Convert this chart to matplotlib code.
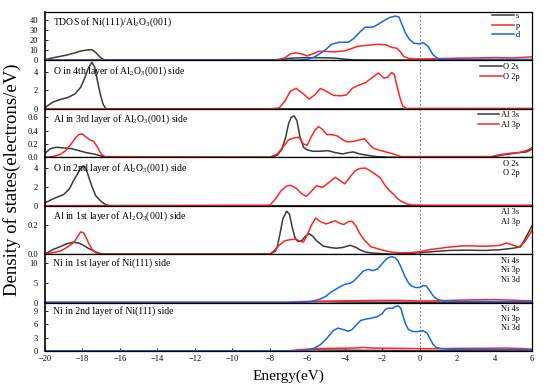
import matplotlib
matplotlib.use('Agg')
import matplotlib.pyplot as plt

plt.rcParams['font.family'] = ['Liberation Serif', 'DejaVu Serif']
plt.rcParams['mathtext.fontset'] = 'custom'
plt.rcParams['mathtext.rm'] = 'Liberation Serif'
plt.rcParams['axes.unicode_minus'] = True

# ---------------- data ----------------
# Panel 1: TDOS
p1_s_E = [-20, -19.6, -19.2, -18.8, -18.4, -18.1, -17.8, -17.5, -17.3, -17.1, -16.9, -16.7,
          -8, -7.4, -7.0, -6.5, -6.0, -5.5, -5.0, -4.5, -4.0, -3.5, -3.0, 6]
p1_s = [0.7, 2.5, 4, 5.5, 7.5, 9.3, 10.2, 10.7, 8, 4, 1, 0,
        0.2, 1, 2, 2.6, 2.7, 2.7, 2.6, 2.3, 1.2, 0.6, 0.4, 0.3]
p1_p_E = [-20, -8, -7.5, -7.2, -6.9, -6.6, -6.3, -6.0, -5.7, -5.4, -5.0, -4.6, -4.0, -3.6, -3.3,
          -2.8, -2.2, -1.8, -1.5, -1.2, -1.0, -0.85, -0.6, -0.2, 0.5, 1, 2, 3, 4, 5, 6]
p1_p = [0.3, 0.3, 1, 2.5, 6.5, 7.5, 6.5, 4.5, 6.5, 9, 9, 8.5, 9.5, 12, 14,
        15, 16, 15.5, 13, 12, 8, 4, 2, 1.5, 1.5, 1.8, 2.2, 2.5, 2.8, 2.5, 3.5]
p1_d_E = [-20, -6.5, -6.0, -5.6, -5.3, -5.0, -4.7, -4.3, -3.8, -3.5, -3.2, -2.9, -2.5, -2.2, -1.9,
          -1.6, -1.3, -1.1, -0.95, -0.75, -0.55, -0.3, -0.05, 0.2, 0.45, 0.7, 0.95, 1.3, 6]
p1_d = [0.3, 0.3, 1, 3.5, 7, 11, 16, 18, 18, 22, 28, 33, 33, 36, 39.5,
        42.5, 44, 43, 36, 27, 21, 17, 16.5, 17.5, 14, 6, 2, 1, 1]

# Panel 2: O in 4th layer
p2_s_E = [-20, -19.6, -19.2, -18.8, -18.4, -18.1, -17.9, -17.7, -17.5, -17.35, -17.2, -17.05,
          -16.9, -16.75, 6]
p2_s = [0.15, 0.7, 1.0, 1.2, 1.6, 2.3, 3.2, 4.3, 5.0, 4.5, 3.0, 1.6, 0.5, 0.0, 0.0]
p2_p_E = [-20, -8, -7.5, -7.2, -6.9, -6.6, -6.2, -5.9, -5.6, -5.3, -5.0, -4.6, -4.2, -3.9, -3.6,
          -3.3, -2.9, -2.5, -2.2, -1.9, -1.7, -1.5, -1.35, -1.2, -1.05, -0.9, -0.7, 6]
p2_p = [0, 0, 0.1, 0.8, 1.9, 2.2, 1.6, 1.05, 1.5, 2.2, 1.9, 1.45, 1.4, 1.5, 2.2,
        2.5, 2.8, 3.4, 3.85, 3.3, 3.4, 3.9, 3.7, 2.4, 1.2, 0.3, 0.05, 0.05]

# Panel 3: Al in 3rd layer
p3_s_E = [-20, -19.7, -19.4, -19.0, -18.6, -18.2, -17.8, -17.4, -17.0, -16.7, -8, -7.6, -7.35,
          -7.15, -7.0, -6.85, -6.7, -6.55, -6.4, -6.2, -6.0, -5.7, -5.3, -4.9, -4.5, -4.1, -3.8,
          -3.55, -3.2, -2.8, -2.3, -1.5, 3.8, 4.3, 4.8, 5.3, 5.7, 6]
p3_s = [0.06, 0.13, 0.15, 0.14, 0.13, 0.1, 0.07, 0.05, 0.02, 0, 0, 0.03, 0.12,
        0.3, 0.5, 0.6, 0.62, 0.55, 0.32, 0.15, 0.11, 0.09, 0.09, 0.1, 0.07, 0.05, 0.07,
        0.08, 0.05, 0.03, 0.01, 0, 0, 0.03, 0.05, 0.07, 0.08, 0.12]
p3_p_E = [-20, -19.6, -19.2, -18.9, -18.6, -18.4, -18.2, -18.0, -17.8, -17.6, -17.4, -17.2, -17.0,
          -16.8, -8, -7.6, -7.3, -7.0, -6.7, -6.45, -6.2, -6.0, -5.8, -5.6, -5.4, -5.2, -4.95,
          -4.7, -4.4, -4.1, -3.85, -3.5, -3.2, -2.95, -2.7, -2.5, -2.2, -1.8, -1.4, -1.0, 3.8,
          4.3, 4.8, 5.3, 5.7, 6]
p3_p = [0, 0.01, 0.04, 0.1, 0.2, 0.28, 0.34, 0.35, 0.3, 0.26, 0.24, 0.15, 0.05,
        0.01, 0, 0.05, 0.15, 0.26, 0.29, 0.3, 0.2, 0.18, 0.3, 0.4, 0.46, 0.42, 0.34,
        0.34, 0.32, 0.26, 0.23, 0.24, 0.26, 0.28, 0.2, 0.14, 0.11, 0.08, 0.05, 0.01, 0.01,
        0.04, 0.06, 0.07, 0.1, 0.14]

# Panel 4: O in 2nd layer
p4_s_E = [-20, -19.5, -19.0, -18.7, -18.5, -18.3, -18.1, -17.95, -17.8, -17.65, -17.5, -17.3,
          -17.0, -16.75, -16.5, 6]
p4_s = [0.3, 0.8, 1.2, 1.8, 2.6, 3.3, 4.0, 4.3, 3.9, 3.0, 2.1, 1.1, 0.45, 0.1, 0, 0]
p4_p_E = [-20, -8.0, -7.7, -7.4, -7.1, -6.9, -6.6, -6.3, -6.05, -5.8, -5.5, -5.2, -4.9, -4.5,
          -4.25, -4.0, -3.75, -3.45, -3.2, -2.9, -2.6, -2.35, -2.1, -1.85, -1.6, -1.4, -1.2,
          -1.0, -0.7, -0.4, 0.5, 6]
p4_p = [0, 0.05, 0.7, 1.6, 2.1, 2.2, 1.9, 1.3, 1.0, 1.5, 2.15, 1.95, 2.4, 3.05,
        2.7, 2.35, 3.0, 3.75, 4.0, 4.05, 3.7, 3.35, 3.0, 2.2, 1.6, 1.25, 0.8,
        0.5, 0.2, 0.08, 0.05, 0.05]

# Panel 5: Al in 1st layer
p5_s_E = [-20, -19.6, -19.2, -18.85, -18.5, -18.2, -17.95, -17.7, -17.45, -17.2, -17.0, -8.0,
          -7.7, -7.6, -7.45, -7.3, -7.1, -6.95, -6.8, -6.65, -6.5, -6.3, -6.1, -5.9, -5.7,
          -5.5, -5.15, -4.8, -4.45, -4.1, -3.7, -3.4, -3.15, -2.9, -2.6, -2.0, -1.5, -1.0,
          -0.5, 0, 0.5, 1.0, 1.6, 2.5, 3.5, 4.3, 5.0, 5.4, 5.7, 6]
p5_s = [0.0, 0.03, 0.05, 0.07, 0.08, 0.075, 0.06, 0.04, 0.025, 0.01, 0, 0,
        0.02, 0.05, 0.14, 0.24, 0.29, 0.27, 0.18, 0.11, 0.085, 0.09, 0.12, 0.138, 0.12,
        0.09, 0.055, 0.045, 0.04, 0.045, 0.06, 0.045, 0.027, 0.015, 0.008, 0.003, 0.0, 0.002,
        0.005, 0.01, 0.015, 0.02, 0.025, 0.027, 0.025, 0.03, 0.04, 0.05, 0.12, 0.19]
p5_p_E = [-20, -19.2, -18.9, -18.6, -18.4, -18.25, -18.1, -17.95, -17.8, -17.65, -17.5, -17.3,
          -17.1, -8.0, -7.8, -7.5, -7.2, -6.9, -6.6, -6.35, -6.2, -6.0, -5.8, -5.55, -5.3, -5.0,
          -4.75, -4.5, -4.3, -4.05, -3.8, -3.6, -3.4, -3.2, -2.95, -2.6, -2.2, -1.8, -1.4,
          -1.0, -0.5, 0, 0.5, 1.0, 1.6, 2.2, 2.8, 3.3, 3.8, 4.3, 4.65, 5.0, 5.3, 5.6, 5.8, 6]
p5_p = [0, 0.02, 0.04, 0.065, 0.09, 0.12, 0.15, 0.145, 0.11, 0.07, 0.035, 0.01,
        0, 0, 0.02, 0.06, 0.09, 0.098, 0.1, 0.085, 0.082, 0.13, 0.19, 0.244, 0.22, 0.204,
        0.215, 0.225, 0.21, 0.2, 0.22, 0.222, 0.19, 0.14, 0.095, 0.05, 0.035, 0.022, 0.012,
        0.009, 0.01, 0.016, 0.03, 0.038, 0.048, 0.055, 0.056, 0.053, 0.055, 0.06, 0.076, 0.06,
        0.049, 0.08, 0.12, 0.16]

# Panel 6: Ni in 1st layer
p6_s_E = [-20, -7, -6, -5, -4, -2, 0, 2, 4, 6]
p6_s = [0, 0, 0.2, 0.25, 0.15, 0.1, 0.08, 0.1, 0.1, 0.1]
p6_p_E = [-20, -7, -6.5, -6, -5, -4, -3, -2, -1, 0, 1, 2, 3, 4, 5, 6]
p6_p = [0.05, 0.05, 0.2, 0.3, 0.35, 0.45, 0.5, 0.55, 0.55, 0.4, 0.45, 0.6, 0.7, 0.75, 0.6, 0.4]
p6_d_E = [-20, -6.5, -6.0, -5.6, -5.3, -5.0, -4.75, -4.5, -4.25, -4.0, -3.7, -3.5, -3.3, -3.0,
          -2.75, -2.5, -2.25, -2.0, -1.8, -1.6, -1.45, -1.3, -1.15, -1.0, -0.8, -0.6, -0.4,
          -0.2, 0.0, 0.2, 0.35, 0.5, 0.65, 0.8, 1.0, 1.3, 2, 6]
p6_d = [0.05, 0.05, 0.1, 0.5, 0.9, 1.6, 2.6, 3.3, 4.0, 4.6, 4.9, 5.5, 6.5, 8.0,
        8.4, 8.1, 8.5, 9.8, 10.9, 11.5, 11.6, 11.3, 10.5, 9.0, 6.8, 5.0, 4.1,
        3.8, 3.8, 4.3, 4.2, 3.3, 2.2, 1.3, 0.7, 0.45, 0.3, 0.2]

# Panel 7: Ni in 2nd layer
p7_s_E = [-20, -7, -6, -5, -3, -1, 0, 2, 4, 6]
p7_s = [0, 0, 0.25, 0.2, 0.15, 0.1, 0.05, 0.1, 0.12, 0.1]
p7_p_E = [-20, -7, -6.3, -5.5, -4.5, -3.5, -3.0, -2.5, -1.5, -0.5, 0.5, 1.5, 2.5, 3.5, 4.5, 5.5, 6]
p7_p = [0.05, 0.05, 0.3, 0.55, 0.6, 0.65, 0.8, 0.65, 0.6, 0.55, 0.5, 0.55, 0.6, 0.6, 0.65, 0.55, 0.4]
p7_d_E = [-20, -6.5, -6.0, -5.6, -5.3, -5.0, -4.8, -4.6, -4.35, -4.1, -3.8, -3.6, -3.4, -3.15,
          -2.9, -2.6, -2.3, -2.0, -1.85, -1.65, -1.45, -1.3, -1.15, -1.0, -0.9, -0.75, -0.6,
          -0.4, -0.2, 0.0, 0.2, 0.4, 0.55, 0.7, 0.9, 1.2, 1.6, 6]
p7_d = [0.05, 0.05, 0.15, 0.7, 1.4, 2.6, 3.6, 4.6, 5.1, 4.8, 4.4, 4.8, 5.7, 6.8,
        7.1, 7.3, 7.6, 8.3, 9.2, 9.6, 9.5, 9.9, 10.1, 9.5, 8.0, 6.0, 4.8,
        4.4, 4.3, 4.4, 4.5, 4.0, 2.8, 1.6, 0.75, 0.5, 0.4, 0.25]

titles = [r'TDOS of Ni(111)/Al$_2$O$_3$(001)',
          r'O in 4th layer of Al$_2$O$_3$(001) side',
          r'Al in 3rd layer of Al$_2$O$_3$(001) side',
          r'O in 2nd layer of Al$_2$O$_3$(001) side',
          r'Al in 1st layer of Al$_2$O$_3$(001) side',
          'Ni in 1st layer of Ni(111) side',
          'Ni in 2nd layer of Ni(111) side']
legend_labels = [['s', 'p', 'd'], ['O 2s', 'O 2p'], ['Al 3s', 'Al 3p'], ['O 2s', 'O 2p'],
                 ['Al 3s', 'Al 3p'], ['Ni 4s', 'Ni 3p', 'Ni 3d'], ['Ni 4s', 'Ni 3p', 'Ni 3d']]
legend_lines = [True, True, True, False, False, False, False]
ylims = [48, 5.2, 0.725, 5.2, 0.327, 12.25, 10.8]
yticks = [[0, 10, 20, 30, 40], [0, 2, 4], [0.0, 0.2, 0.4, 0.6], [0, 2, 4], [0.0, 0.2],
          [0, 5, 10], [0, 3, 6, 9]]
ytick_fmt = ['%d', '%d', '%.1f', '%d', '%.1f', '%d', '%d']
xticks = list(range(-20, 7, 2))

series = [
    [(p1_s_E, p1_s), (p1_p_E, p1_p), (p1_d_E, p1_d)],
    [(p2_s_E, p2_s), (p2_p_E, p2_p)],
    [(p3_s_E, p3_s), (p3_p_E, p3_p)],
    [(p4_s_E, p4_s), (p4_p_E, p4_p)],
    [(p5_s_E, p5_s), (p5_p_E, p5_p)],
    [(p6_s_E, p6_s), (p6_p_E, p6_p), (p6_d_E, p6_d)],
    [(p7_s_E, p7_s), (p7_p_E, p7_p), (p7_d_E, p7_d)],
]
colors = ['#3a3a3a', '#ff2424', '#1a66e0']

# ---------------- figure ----------------
fig = plt.figure(figsize=(5.5, 3.9), dpi=100)
L, R = 45 / 550, 532 / 550
T, B = 1 - 12 / 390, 1 - 351 / 390
gs = fig.add_gridspec(7, 1, left=L, right=R, top=T, bottom=B, hspace=0)

for i in range(7):
    ax = fig.add_subplot(gs[i])
    handles = []
    for j, (xe, yv) in enumerate(series[i]):
        ln, = ax.plot(xe, yv, color=colors[j], lw=1.1, label=legend_labels[i][j])
        handles.append(ln)
    ax.axvline(0, color='#777777', lw=0.7, ls=(0, (2, 2)), zorder=0)
    ax.set_xlim(-20, 6)
    ax.set_ylim(0, ylims[i])
    ax.set_yticks(yticks[i])
    ax.set_yticklabels([ytick_fmt[i] % v for v in yticks[i]])
    ax.set_xticks(xticks)
    ax.tick_params(axis='both', direction='in', length=2, width=0.6, labelsize=6, pad=5)
    ax.tick_params(axis='x', pad=3)
    if i < 6:
        ax.tick_params(axis='x', labelbottom=False, length=0)
    for sp in ax.spines.values():
        sp.set_linewidth(0.9)
        sp.set_color('black')
    ax.spines['left'].set_linewidth(1.2)
    ax.text(0.016, 0.92, titles[i], transform=ax.transAxes, fontsize=7,
            va='top', ha='left')
    off = 0 if i == 0 else 2.5
    if legend_lines[i]:
        ax.legend(handles=handles, loc='upper right',
                  bbox_to_anchor=(1 - 12 / 487, 1 - off / 48), borderaxespad=0,
                  borderpad=0, frameon=False, fontsize=6, handlelength=2.6,
                  handletextpad=0.2, labelspacing=0.2)
    else:
        ax.legend(handles=handles, loc='upper right',
                  bbox_to_anchor=(1 - 12 / 487, 1 - off / 48), borderaxespad=0,
                  borderpad=0, frameon=False, fontsize=6, handlelength=0,
                  handletextpad=0, labelspacing=0.2)

fig.text(12 / 550, 1 - 180 / 390, 'Density of states(electrons/eV)', rotation=90,
         ha='center', va='center', fontsize=13.5)
fig.text(288 / 550, 1 - 376 / 390, 'Energy(eV)', ha='center', va='center', fontsize=11)

fig.savefig('out.png', dpi=100)
